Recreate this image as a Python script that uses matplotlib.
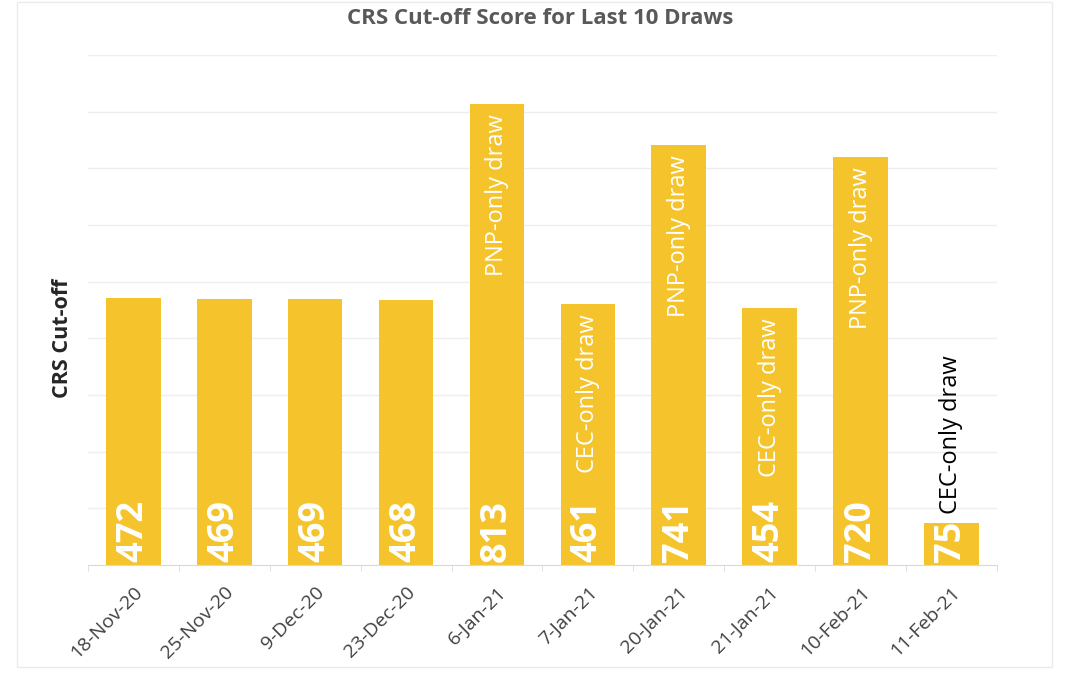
import matplotlib.pyplot as plt
from matplotlib.patches import Rectangle
import numpy as np

# data
draw_dates = ["18-Nov-20", "25-Nov-20", "9-Dec-20", "23-Dec-20", "6-Jan-21",
              "7-Jan-21", "20-Jan-21", "21-Jan-21", "10-Feb-21", "11-Feb-21"]
crs_scores = [472, 469, 469, 468, 813, 461, 741, 454, 720, 75]
draw_notes = ["", "", "", "", "PNP-only draw", "CEC-only draw", "PNP-only draw",
              "CEC-only draw", "PNP-only draw", "CEC-only draw"]

bar_color = '#F5C42C'
plt.rcParams['font.family'] = ['Open Sans', 'DejaVu Sans']

fig = plt.figure(figsize=(10.8, 6.8), dpi=100)
ax = fig.add_axes([0.0815, 0.169, 0.8415, 0.75])

# faint frame round the chart
fig.patches.append(Rectangle((17 / 1080, 13 / 680), 1035 / 1080, 665 / 680,
                             transform=fig.transFigure, fill=False,
                             edgecolor='#EBEBEB', linewidth=1))

X = np.arange(len(crs_scores))
ax.bar(X, crs_scores, width=0.6, color=bar_color, zorder=2)

for i, v in enumerate(crs_scores):
    ax.text(i, 6, str(v), rotation=90, ha='center', va='bottom',
            color='white', fontsize=26, fontweight='bold', zorder=3)
    note = draw_notes[i]
    if not note:
        continue
    if v > 200:
        ax.text(i, v - 18, note, rotation=90, ha='center', va='top',
                color='white', fontsize=17, zorder=3)
    else:
        ax.text(i, v + 16, note, rotation=90, ha='center', va='bottom',
                color='black', fontsize=17, zorder=3)

ax.set_ylim(0, 900)
ax.set_xlim(-0.5, len(crs_scores) - 0.5)
ax.set_yticks(np.arange(100, 1000, 100))
ax.set_yticklabels([])
ax.tick_params(axis='y', length=0)
ax.grid(axis='y', color='#EEEEEE', linewidth=1, zorder=0)

ax.set_xticks(X)
ax.set_xticklabels(draw_dates, rotation=45, ha='right', rotation_mode='anchor',
                   fontsize=14, color='#404040')
ax.tick_params(axis='x', length=0, pad=13)
ax.set_xticks(np.arange(-0.5, len(crs_scores), 1), minor=True)
ax.tick_params(axis='x', which='minor', length=4, color='#D9D9D9')

for s in ['top', 'right', 'left']:
    ax.spines[s].set_visible(False)
ax.spines['bottom'].set_color('#D9D9D9')

ax.set_ylabel('CRS Cut-off', fontsize=15.5, fontweight='bold', color='#262626')
ax.yaxis.set_label_coords(-0.017, 0.445)
fig.text(0.5, 0.973, 'CRS Cut-off Score for Last 10 Draws', ha='center',
         va='center', fontsize=16, fontweight='bold', color='#595959')

fig.savefig('out.png', dpi=100)
